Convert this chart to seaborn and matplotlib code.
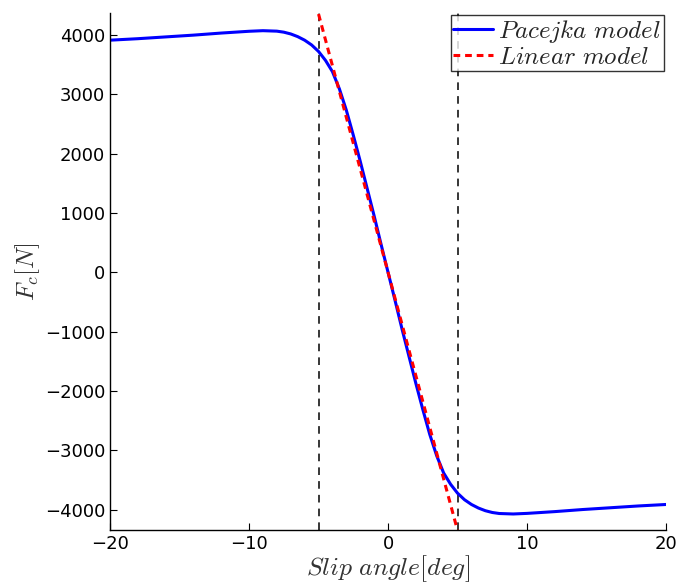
import numpy as np
import pandas as pd
import seaborn as sns
import matplotlib.pyplot as plt

sns.set_style("ticks")
plt.rcParams["mathtext.fontset"] = "cm"
plt.rcParams["font.family"] = ["DejaVu Sans"]

# slip angle [deg] and lateral force [N] (Pacejka curve)
slip_neg = [-20, -18, -16, -14, -12, -10, -9, -8, -7.5, -7, -6.5, -6, -5.5, -5,
            -4.5, -4, -3.5, -3, -2.5, -2, -1.5, -1, -0.5]
force_neg = [3910, 3935, 3965, 3995, 4030, 4060, 4070, 4062, 4045, 4015, 3970, 3910,
             3830, 3720, 3570, 3380, 3090, 2730, 2310, 1870, 1410, 950, 470]
slip = slip_neg + [0] + [-s for s in slip_neg[::-1]]
force = force_neg + [0] + [-f for f in force_neg[::-1]]

# linear model
lin_slip = [-5, 5]
lin_force = [4350, -4350]

# vertical marks
vlines = [-5, 5]

pac = pd.DataFrame({"slip": slip, "force": force})
lin = pd.DataFrame({"slip": lin_slip, "force": lin_force})

fig = plt.figure(figsize=(6.79, 5.85), dpi=100)
ax = fig.add_axes([0.162, 0.094, 0.819, 0.884])

sns.lineplot(data=pac, x="slip", y="force", color="#0000ff", lw=2.2, ax=ax,
             label=r"$Pacejka\ model$", sort=False)
sns.lineplot(data=lin, x="slip", y="force", color="#ff0000", lw=2.2, ls=(0, (2.2, 1.6)),
             ax=ax, label=r"$Linear\ model$", sort=False)
for v in vlines:
    ax.axvline(v, color="black", lw=1.1, ls=(0, (5, 4)), zorder=0)

ax.set_xlim(-20, 20)
ax.set_ylim(-4340, 4370)
ax.set_xticks([-20, -10, 0, 10, 20])
ax.set_yticks(np.arange(-4000, 4001, 1000))
ax.tick_params(direction="in", length=5, labelsize=13, colors="black")
for s in ["left", "bottom"]:
    ax.spines[s].set_color("black")
    ax.spines[s].set_linewidth(1.0)
sns.despine(ax=ax)

ax.set_xlabel(r"$Slip\ angle[deg]$", fontsize=18.5, color="#333333", labelpad=0)
ax.set_ylabel(r"$F_c[N]$", fontsize=18, color="#333333", labelpad=2)

leg = ax.legend(loc="upper right", fontsize=18, frameon=True, fancybox=False,
                borderpad=0.1, labelspacing=0.0, handlelength=1.6, handletextpad=0.2,
                borderaxespad=0.1)
leg.get_frame().set_edgecolor("black")
leg.get_frame().set_linewidth(1.0)

fig.savefig("out.png", dpi=100)
